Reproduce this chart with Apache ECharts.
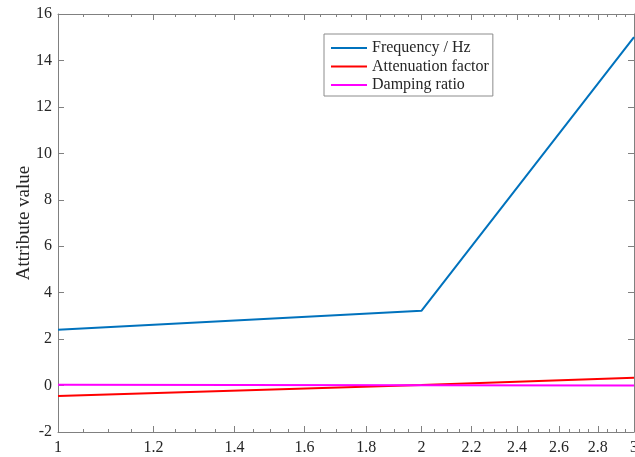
<!DOCTYPE html>
<html>
<head>
<meta charset="utf-8">
<script src="https://cdn.jsdelivr.net/npm/echarts@6/dist/echarts.min.js"></script>
<style>
  html, body { margin: 0; padding: 0; background: #fff; }
  #chart { width: 635px; height: 457px; }
</style>
</head>
<body>
<div id="chart"></div>
<script>
// semilogx plot, x = 1..3
const xValues = [1, 2, 3];
const frequency = [2.4, 3.22, 15.0];
const attenuation = [-0.45, 0.02, 0.34];
const damping = [0.04, 0.01, 0.0];

const xMajorTicks = [1, 1.2, 1.4, 1.6, 1.8, 2, 2.2, 2.4, 2.6, 2.8, 3];
const xMinorTicks = [1.05, 1.1, 1.15, 1.25, 1.3, 1.35, 1.45, 1.5, 1.55, 1.65, 1.7, 1.75,
  1.85, 1.9, 1.95, 2.05, 2.1, 2.15, 2.25, 2.3, 2.35, 2.45, 2.5, 2.55, 2.65, 2.7, 2.75,
  2.85, 2.9, 2.95];
const yTicks = [-2, 0, 2, 4, 6, 8, 10, 12, 14, 16];

const font = '"Liberation Serif", "Times New Roman", serif';
const axisGray = '#808080';
const textColor = '#262626';

const lg = v => Math.log10(v);
const fmtX = v => String(+Math.pow(10, v).toFixed(2));

function xAxisDef(position, ticks, len, showLabel, showLine) {
  return {
    type: 'value',
    position: position,
    min: 0,
    max: lg(3),
    axisLine: { show: showLine, onZero: false, lineStyle: { color: axisGray, width: 1 } },
    axisTick: {
      show: true,
      inside: true,
      length: len,
      customValues: ticks.map(lg),
      lineStyle: { color: axisGray, width: 1 }
    },
    axisLabel: {
      show: showLabel,
      customValues: ticks.map(lg),
      formatter: fmtX,
      margin: 8,
      color: textColor,
      fontFamily: font,
      fontSize: 16
    },
    splitLine: { show: false }
  };
}

function yAxisDef(position, showLabel) {
  return {
    type: 'value',
    position: position,
    min: -2,
    max: 16,
    interval: 2,
    axisLine: { show: true, onZero: false, lineStyle: { color: axisGray, width: 1 } },
    axisTick: { show: true, inside: true, length: 6, lineStyle: { color: axisGray } },
    axisLabel: {
      show: showLabel,
      customValues: yTicks,
      margin: 6,
      color: textColor,
      fontFamily: font,
      fontSize: 16
    },
    splitLine: { show: false }
  };
}

function lineSeries(name, data, color) {
  return {
    name: name,
    type: 'line',
    xAxisIndex: 0,
    yAxisIndex: 0,
    data: xValues.map((x, i) => [lg(x), data[i]]),
    symbol: 'none',
    lineStyle: { color: color, width: 2 },
    itemStyle: { color: color }
  };
}

const yLeft = yAxisDef('left', true);
yLeft.name = 'Attribute value';
yLeft.nameLocation = 'middle';
yLeft.nameGap = 24;
yLeft.nameMoveOverlap = false;
yLeft.nameTextStyle = { fontFamily: font, fontSize: 19, color: textColor };

const chart = echarts.init(document.getElementById('chart'), null, { renderer: 'canvas' });
chart.setOption({
  animation: false,
  backgroundColor: '#fff',
  grid: { left: 58, right: 1, top: 14, bottom: 25, containLabel: false, outerBoundsMode: 'none' },
  legend: {
    orient: 'vertical',
    left: 324,
    top: 34,
    padding: [5, 4, 2, 7],
    icon: 'rect',
    itemWidth: 36,
    itemHeight: 2,
    itemGap: 0.5,
    borderColor: '#8c8c8c',
    borderWidth: 1,
    backgroundColor: '#fff',
    textStyle: { fontFamily: font, fontSize: 16, color: textColor, lineHeight: 18 },
    data: ['Frequency / Hz', 'Attenuation factor', 'Damping ratio']
  },
  xAxis: [
    xAxisDef('bottom', xMajorTicks, 6, true, true),
    xAxisDef('bottom', xMinorTicks, 3, false, false),
    xAxisDef('top', xMajorTicks, 6, false, true),
    xAxisDef('top', xMinorTicks, 3, false, false)
  ],
  yAxis: [yLeft, yAxisDef('right', false)],
  series: [
    lineSeries('Frequency / Hz', frequency, '#0072BD'),
    lineSeries('Attenuation factor', attenuation, '#FF0000'),
    lineSeries('Damping ratio', damping, '#FF00FF')
  ]
});
</script>
</body>
</html>
